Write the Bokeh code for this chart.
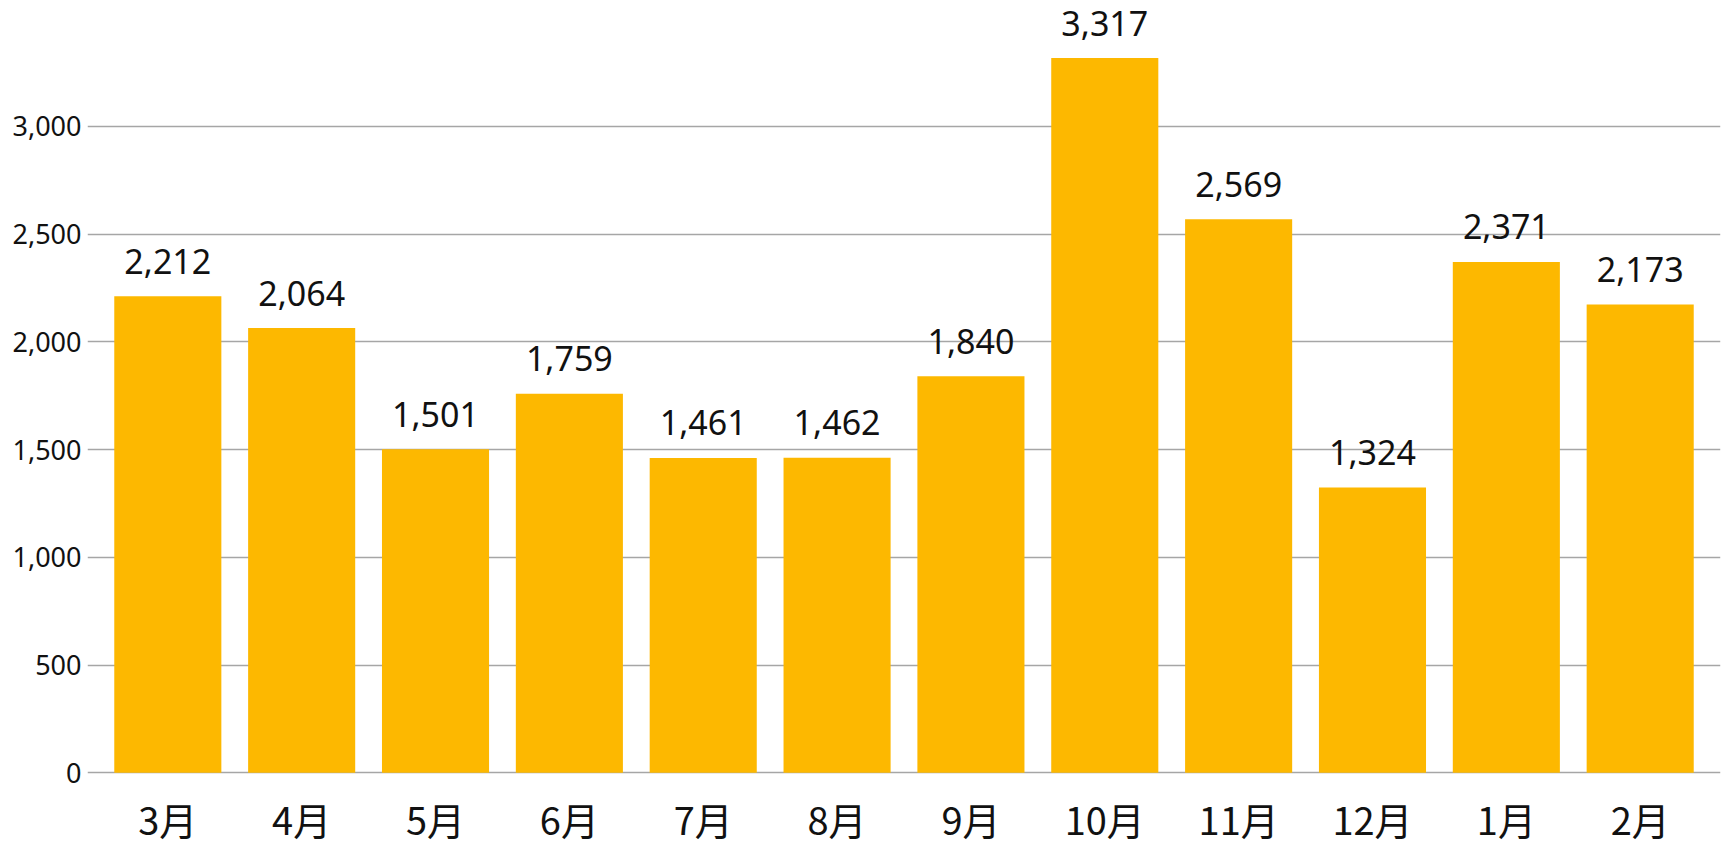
from bokeh.plotting import figure
from bokeh.models import FactorRange, Range1d, ColumnDataSource, NumeralTickFormatter, FixedTicker
from bokeh.core.properties import value
from bokeh.embed import file_html
from bokeh.resources import INLINE

months = ["3月", "4月", "5月", "6月", "7月", "8月", "9月", "10月", "11月", "12月", "1月", "2月"]
counts = [2212, 2064, 1501, 1759, 1461, 1462, 1840, 3317, 2569, 1324, 2371, 2173]
y_ticks = [0, 500, 1000, 1500, 2000, 2500, 3000]

labels = [f"{v:,}" for v in counts]
src = ColumnDataSource(dict(m=months, v=counts, lab=labels, zero=[0] * len(months)))

p = figure(
    x_range=FactorRange(*months, range_padding=0.1, range_padding_units="absolute"),
    y_range=Range1d(-342, 3584),
    width=1728, height=846,
    output_backend="svg", toolbar_location=None,
    min_border_left=87, min_border_right=8, min_border_top=0, min_border_bottom=0,
)
p.outline_line_color = None
p.background_fill_color = "white"
p.border_fill_color = "white"

p.xgrid.grid_line_color = None
p.ygrid.grid_line_color = "#a6a6a6"
p.ygrid.grid_line_width = 1.5
p.ygrid.ticker = FixedTicker(ticks=y_ticks)

p.vbar(x="m", top="v", bottom=0, width=0.8, source=src, fill_color="#FDB800", line_color=None)

# value labels above the bars
p.text(x="m", y="v", text="lab", source=src, y_offset=-35,
       text_align="center", text_baseline="middle",
       text_font=value("Noto Sans"), text_font_size="34px", text_color="#111111")

# category labels below the zero line
p.text(x="m", y="zero", text="m", source=src, y_offset=46,
       text_align="center", text_baseline="middle",
       text_font=value("Noto Sans CJK JP"), text_font_size="38px", text_color="#111111")

p.xaxis.visible = False

p.yaxis.ticker = FixedTicker(ticks=y_ticks)
p.yaxis.formatter = NumeralTickFormatter(format="0,0")
p.yaxis.axis_line_color = None
p.yaxis.major_tick_line_color = None
p.yaxis.minor_tick_line_color = None
p.yaxis.major_label_text_font = "Noto Sans"
p.yaxis.major_label_text_font_size = "27px"
p.yaxis.major_label_text_color = "#111111"
p.yaxis.major_label_standoff = 0

open("out.html", "w").write(file_html(p, INLINE))
